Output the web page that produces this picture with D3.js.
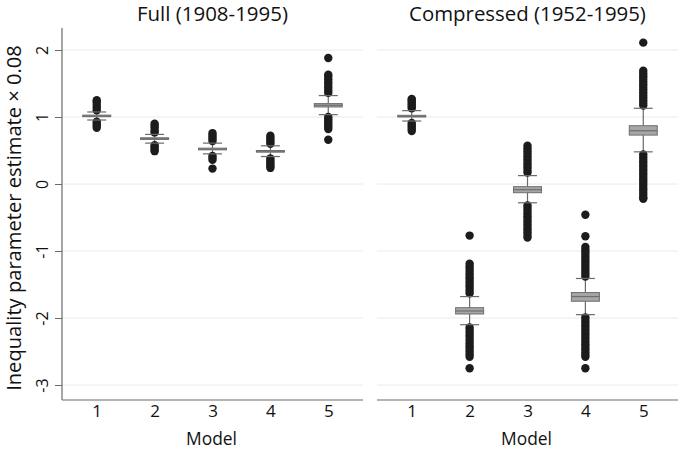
<!DOCTYPE html>
<html><head><meta charset="utf-8">
<script src="https://cdn.jsdelivr.net/npm/d3@7"></script>
<style>body{margin:0;background:#fff}svg{display:block}text{font-family:"Open Sans","Noto Sans",sans-serif;fill:#111}</style>
</head><body>
<script>
const models = [1, 2, 3, 4, 5];
const yTicks = [2, 1, 0, -1, -2, -3];
const panelTitles = ["Full (1908-1995)", "Compressed (1952-1995)"];
const yTitle = "Inequality parameter estimate \u00d7 0.08";
const xTitle = "Model";

// Full panel stats
const fullQ1 = [1.005, 0.665, 0.51, 0.475, 1.15];
const fullMedian = [1.015, 0.675, 0.52, 0.49, 1.175];
const fullQ3 = [1.028, 0.69, 0.535, 0.50, 1.20];
const fullWhiskerLow = [0.955, 0.61, 0.45, 0.41, 1.035];
const fullWhiskerHigh = [1.075, 0.74, 0.61, 0.57, 1.32];
const fullOutliers = [
  [1.10, 1.14, 1.18, 1.22, 1.25, 0.93, 0.90, 0.87, 0.84],
  [0.77, 0.80, 0.84, 0.87, 0.90, 0.58, 0.55, 0.52, 0.49],
  [0.64, 0.67, 0.70, 0.73, 0.76, 0.42, 0.39, 0.36, 0.23],
  [0.60, 0.63, 0.66, 0.69, 0.72, 0.38, 0.35, 0.32, 0.29, 0.26, 0.24],
  [1.36, 1.40, 1.44, 1.48, 1.52, 1.56, 1.60, 1.63, 1.88, 1.00, 0.97, 0.94, 0.91, 0.88, 0.85, 0.82, 0.66]
];

// Compressed panel stats
const compQ1 = [1.0, -1.94, -0.13, -1.75, 0.73];
const compMedian = [1.01, -1.895, -0.085, -1.68, 0.795];
const compQ3 = [1.025, -1.846, -0.04, -1.62, 0.87];
const compWhiskerLow = [0.94, -2.10, -0.28, -1.95, 0.48];
const compWhiskerHigh = [1.095, -1.68, 0.125, -1.41, 1.13];
const compOutliers = [
  [1.13, 1.16, 1.19, 1.22, 1.25, 1.27, 0.91, 0.88, 0.85, 0.82, 0.79],
  [-0.77, -1.19, -1.23, -1.27, -1.31, -1.35, -1.39, -1.43, -1.47, -1.51, -1.55, -1.59, -1.63,
   -2.14, -2.18, -2.22, -2.26, -2.30, -2.34, -2.38, -2.42, -2.46, -2.50, -2.54, -2.58, -2.75],
  [0.57, 0.53, 0.49, 0.45, 0.41, 0.37, 0.33, 0.29, 0.25, 0.21, 0.17,
   -0.32, -0.36, -0.40, -0.44, -0.48, -0.52, -0.56, -0.60, -0.64, -0.68, -0.72, -0.76, -0.80],
  [-0.46, -0.78, -0.94, -0.98, -1.02, -1.06, -1.10, -1.14, -1.18, -1.22, -1.26, -1.30, -1.34, -1.38,
   -1.99, -2.03, -2.07, -2.11, -2.15, -2.19, -2.23, -2.27, -2.31, -2.35, -2.39, -2.43, -2.47, -2.51, -2.55, -2.58, -2.75],
  [2.11, 1.69, 1.65, 1.61, 1.57, 1.53, 1.49, 1.45, 1.41, 1.37, 1.33, 1.29, 1.25, 1.21, 1.17,
   0.44, 0.40, 0.36, 0.32, 0.28, 0.24, 0.20, 0.16, 0.12, 0.08, 0.04, 0.00, -0.04, -0.08, -0.12, -0.16, -0.20, -0.22]
];

const W = 678, H = 449;
const svg = d3.select("body").append("svg").attr("width", W).attr("height", H);
const y = d3.scaleLinear().domain([-3, 2]).range([385, 50]);
const axisBottomY = 400, axisTopY = 28;

// scale a text so its rendered width matches the target width
function fitWidth(sel, target, base) {
  sel.attr("font-size", base);
  const len = sel.node().getComputedTextLength();
  if (len > 0) sel.attr("font-size", base * target / len);
}

const panels = [
  {title: panelTitles[0], titleW: 151, range: [62, 363], q1: fullQ1, med: fullMedian, q3: fullQ3, wl: fullWhiskerLow, wh: fullWhiskerHigh, out: fullOutliers, yAxis: true},
  {title: panelTitles[1], titleW: 237, range: [377, 678], q1: compQ1, med: compMedian, q3: compQ3, wl: compWhiskerLow, wh: compWhiskerHigh, out: compOutliers, yAxis: false}
];

const gridColor = "#e2ecef", axisColor = "#6a6a6a";
const boxW = 28, capW = 19;

panels.forEach(p => {
  const x = d3.scaleLinear().domain([0.4, 5.6]).range(p.range);
  const g = svg.append("g");
  g.selectAll(".grid").data(yTicks).join("line")
    .attr("x1", p.range[0]).attr("x2", p.range[1])
    .attr("y1", d => y(d)).attr("y2", d => y(d))
    .attr("stroke", gridColor).attr("stroke-width", 1);
  const xa = g.append("g").attr("transform", `translate(0,${axisBottomY})`)
    .call(d3.axisBottom(x).tickValues(models).tickSize(0).tickPadding(5).tickFormat(d => String(d)));
  xa.select(".domain").attr("stroke", axisColor).attr("stroke-width", 1.2).attr("d", `M${p.range[0]},0H${p.range[1]}`);
  xa.selectAll("text").attr("font-size", 17).attr("fill", "#111").style("font-family", "'Open Sans'");
  const xt = g.append("text").attr("x", (p.range[0] + p.range[1]) / 2 - 1).attr("y", 445)
    .attr("text-anchor", "middle").text(xTitle);
  fitWidth(xt, 51, 17);
  const tt = g.append("text").attr("x", (p.range[0] + p.range[1]) / 2).attr("y", 21)
    .attr("text-anchor", "middle").text(p.title);
  fitWidth(tt, p.titleW, 18);

  if (p.yAxis) {
    const ya = g.append("g").attr("transform", `translate(${p.range[0]},0)`)
      .call(d3.axisLeft(y).tickValues(yTicks).tickSize(7).tickPadding(0).tickFormat(d => String(d)));
    ya.select(".domain").attr("stroke", axisColor).attr("stroke-width", 1.2).attr("d", `M0,${axisTopY}V${axisBottomY}`);
    ya.selectAll(".tick line").attr("stroke", axisColor);
    ya.selectAll(".tick text").attr("font-size", 16).attr("fill", "#111")
      .attr("text-anchor", "middle").style("font-family", "'Open Sans'")
      .attr("x", 0).attr("y", -14).attr("dy", "0").attr("transform", "rotate(-90)");
  }

  models.forEach((m, i) => {
    const cx = x(m);
    const mg = g.append("g");
    mg.append("line").attr("x1", cx).attr("x2", cx).attr("y1", y(p.wh[i])).attr("y2", y(p.q3[i])).attr("stroke", axisColor).attr("stroke-width", 1.2);
    mg.append("line").attr("x1", cx).attr("x2", cx).attr("y1", y(p.q1[i])).attr("y2", y(p.wl[i])).attr("stroke", axisColor).attr("stroke-width", 1.2);
    mg.selectAll("circle").data(p.out[i]).join("circle")
      .attr("cx", cx).attr("cy", d => y(d)).attr("r", 4.2).attr("fill", "#1c1c1c");
    [p.wh[i], p.wl[i]].forEach(v => {
      mg.append("line").attr("x1", cx - capW / 2).attr("x2", cx + capW / 2).attr("y1", y(v)).attr("y2", y(v)).attr("stroke", axisColor).attr("stroke-width", 1.2);
    });
    const top = y(p.q3[i]), bot = y(p.q1[i]);
    mg.append("rect").attr("x", cx - boxW / 2).attr("width", boxW)
      .attr("y", top).attr("height", Math.max(bot - top, 1.5))
      .attr("fill", "#a6a6a6").attr("stroke", "#6e6e6e").attr("stroke-width", 1);
    mg.append("line").attr("x1", cx - boxW / 2).attr("x2", cx + boxW / 2).attr("y1", y(p.med[i])).attr("y2", y(p.med[i])).attr("stroke", "#6e6e6e").attr("stroke-width", 1.2);
  });
});

const yt = svg.append("text").attr("transform", `translate(21,${(axisTopY + axisBottomY) / 2 + 4}) rotate(-90)`)
  .attr("text-anchor", "middle").text(yTitle);
fitWidth(yt, 346, 18);
</script>
</body></html>
